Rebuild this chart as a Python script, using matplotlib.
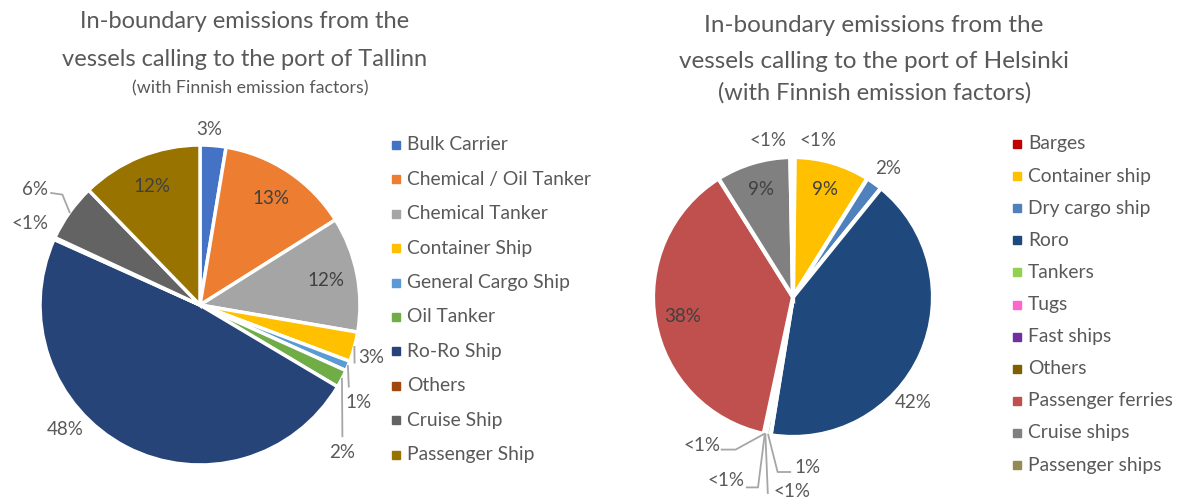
import numpy as np
import matplotlib.pyplot as plt
from matplotlib.patches import Rectangle

plt.rcParams['font.family'] = ['Lato', 'DejaVu Sans']

W, H = 1182, 501

# ===== Tallinn =====
tallinn_types = ["Bulk Carrier", "Chemical / Oil Tanker", "Chemical Tanker",
                 "Container Ship", "General Cargo Ship", "Oil Tanker",
                 "Ro-Ro Ship", "Others", "Cruise Ship", "Passenger Ship"]
tallinn_share = [2.6, 13.4, 11.6, 3.0, 1.0, 1.8, 48.0, 0.2, 5.8, 12.2]
tallinn_colors = ["#4472C4", "#ED7D31", "#A5A5A5", "#FFC000", "#5B9BD5",
                  "#70AD47", "#264478", "#9E480E", "#636363", "#997300"]

# ===== Helsinki =====
helsinki_types = ["Barges", "Container ship", "Dry cargo ship", "Roro",
                  "Tankers", "Tugs", "Fast ships", "Others",
                  "Passenger ferries", "Cruise ships", "Passenger ships"]
helsinki_share = [0.2, 8.7, 1.9, 41.6, 0.55, 0.1, 0.05, 0.1, 37.6, 8.6, 0.3]
helsinki_colors = ["#C00000", "#FFC000", "#4F81BD", "#1F497D", "#92D050",
                   "#FF66CC", "#7030A0", "#7F6000", "#C0504D", "#808080",
                   "#948A54"]

TXT = "#595959"
LBL = "#404040"
LEAD = "#A6A6A6"


def pct(v):
    return "<1%" if v < 0.5 else f"{v:.0f}%"


fig = plt.figure(figsize=(W / 100, H / 100), dpi=100)


def pie_axes(cx, cy, r, m=1.6):
    # square axes centred on (cx, cy) pixels, pie radius = 1 data unit
    ax = fig.add_axes([(cx - r * m) / W, (H - cy - r * m) / H,
                       2 * r * m / W, 2 * r * m / H])
    return ax, m


def draw_pie(ax, m, values, colors, outside, lw=2.5):
    wedges, _ = ax.pie(values, colors=colors, startangle=90, counterclock=False,
                       radius=1, wedgeprops=dict(edgecolor="white", linewidth=lw))
    ax.set_xlim(-m, m)
    ax.set_ylim(-m, m)
    ax.set_aspect("equal")
    ax.axis("off")
    for i, (w, v) in enumerate(zip(wedges, values)):
        a = np.deg2rad((w.theta1 + w.theta2) / 2)
        ex, ey = np.cos(a), np.sin(a)
        if i not in outside:
            ax.text(0.8 * ex, 0.8 * ey, pct(v), ha="center", va="center",
                    color=LBL, fontsize=13.5)
            continue
        x, y, ha, path = outside[i]
        if path:
            xs = [ex] + [p[0] for p in path]
            ys = [ey] + [p[1] for p in path]
            ax.plot(xs, ys, color=LEAD, lw=1.3, clip_on=False)
        ax.text(x, y, pct(v), ha=ha, va="center", color=TXT, fontsize=13.5,
                clip_on=False)


def legend(x0, y0, step, names, colors, size=13.9):
    for k, (n, c) in enumerate(zip(names, colors)):
        yc = y0 + k * step
        fig.patches.append(Rectangle(((x0 - 4) / W, (H - yc - 4) / H), 8 / W, 8 / H,
                                     transform=fig.transFigure, color=c))
        fig.text((x0 + 11) / W, (H - yc) / H, n, ha="left", va="center",
                 color=TXT, fontsize=size)


# Tallinn pie
ax1, m1 = pie_axes(200, 305, 160)
draw_pie(ax1, m1, tallinn_share, tallinn_colors, {
    0: (0.06, 1.10, "center", None),
    3: (0.99, -0.33, "left", [(0.966, -0.36)]),
    4: (0.99, -0.61, "center", [(0.93, -0.51)]),
    5: (0.89, -0.92, "center", [(0.89, -0.82)]),
    6: (-0.84, -0.78, "center", None),
    7: (-1.06, 0.51, "center", None),
    8: (-0.95, 0.72, "right", [(-0.86, 0.69), (-0.93, 0.70)]),
})

# Helsinki pie
ax2, m2 = pie_axes(793, 297, 140)
draw_pie(ax2, m2, helsinki_share, helsinki_colors, {
    0: (0.18, 1.12, "center", None),
    2: (0.68, 0.92, "center", None),
    3: (0.86, -0.75, "center", None),
    4: (0.01, -1.22, "left", [(-0.11, -1.25), (-0.02, -1.25)]),
    5: (-0.14, -1.39, "left", [(-0.18, -1.40)]),
    6: (-0.35, -1.31, "right", [(-0.25, -1.36), (-0.33, -1.36)]),
    7: (-0.52, -1.06, "right", [(-0.41, -1.09), (-0.51, -1.09)]),
    10: (-0.18, 1.12, "center", None),
}, lw=3)

legend(396, 145, 34.4, tallinn_types, tallinn_colors)
legend(1017, 144, 32.1, helsinki_types, helsinki_colors)

# titles
fig.text(245 / W, (H - 22) / H, "In-boundary emissions from the",
         ha="center", va="center", color=TXT, fontsize=17)
fig.text(245 / W, (H - 60) / H, "vessels calling to the port of Tallinn",
         ha="center", va="center", color=TXT, fontsize=17)
fig.text(250 / W, (H - 88) / H, "(with Finnish emission factors)",
         ha="center", va="center", color=TXT, fontsize=12.8)

fig.text(874 / W, (H - 25) / H, "In-boundary emissions from the",
         ha="center", va="center", color=TXT, fontsize=17.5)
fig.text(874 / W, (H - 62) / H, "vessels calling to the port of Helsinki",
         ha="center", va="center", color=TXT, fontsize=17.5)
fig.text(875 / W, (H - 93) / H, "(with Finnish emission factors)",
         ha="center", va="center", color=TXT, fontsize=17)

fig.savefig("out.png", dpi=100)
